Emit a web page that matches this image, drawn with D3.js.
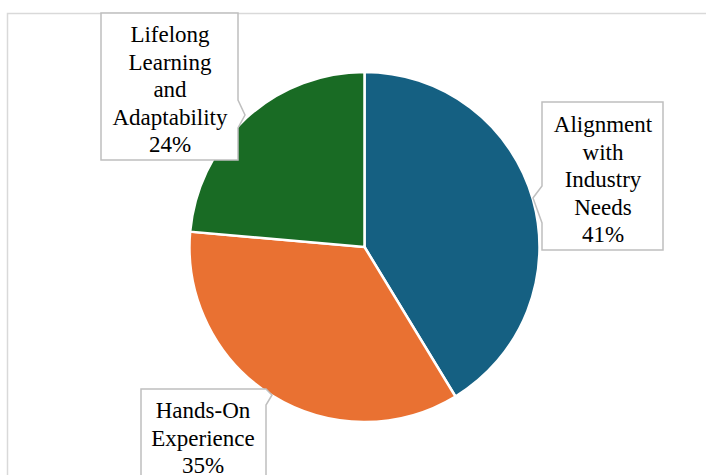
<!DOCTYPE html>
<html>
<head>
<meta charset="utf-8">
<script src="https://cdn.jsdelivr.net/npm/d3@7"></script>
<style>
  html, body { margin: 0; padding: 0; background: #fff; }
  svg { display: block; }
</style>
</head>
<body>
<script>
// chart data
const categories = ["Alignment with Industry Needs", "Hands-On Experience", "Lifelong Learning and Adaptability"];
const values = [41.3, 35.1, 23.6];
const colors = ["#156082", "#E97132", "#196B24"];
// label lines as shown in the callouts
const labelLines = [
  ["Alignment", "with", "Industry", "Needs"],
  ["Hands-On", "Experience"],
  ["Lifelong", "Learning", "and", "Adaptability"]
];

const width = 706, height = 475;
const cx = 364.5, cy = 247, radius = 175;

const svg = d3.select("body").append("svg")
    .attr("width", width)
    .attr("height", height);

// chart area border
svg.append("rect")
    .attr("x", 7.5).attr("y", 13.5)
    .attr("width", 720).attr("height", 500)
    .attr("fill", "none")
    .attr("stroke", "#d9d9d9")
    .attr("stroke-width", 1.5);

const pie = d3.pie().sort(null).value(d => d);
const arc = d3.arc().innerRadius(0).outerRadius(radius);
const arcs = pie(values);
const total = d3.sum(values);

const g = svg.append("g").attr("transform", "translate(" + cx + "," + cy + ")");
g.selectAll("path.slice")
    .data(arcs)
    .enter().append("path")
    .attr("class", "slice")
    .attr("d", arc)
    .attr("fill", (d, i) => colors[i])
    .attr("stroke", "#fff")
    .attr("stroke-width", 2.5);

// callout layout (box, pointer side, pointer base, pointer tip)
const callouts = [
  { x: 542, y: 102, w: 121, h: 148, side: "left", base: [186, 223], tip: [533, 198], tx: 603, ty: 132 },
  { x: 141, y: 389, w: 125, h: 120, side: "right", base: [389, 405], tip: [272, 395], tx: 203, ty: 418 },
  { x: 101, y: 13, w: 137, h: 147, side: "right", base: [100, 128], tip: [245, 115], tx: 170, ty: 42 }
];

function calloutPath(c) {
  const x0 = c.x, y0 = c.y, x1 = c.x + c.w, y1 = c.y + c.h;
  const p = d3.path();
  p.moveTo(x0, y0);
  p.lineTo(x1, y0);
  if (c.side === "right") {
    p.lineTo(x1, c.base[0]);
    p.lineTo(c.tip[0], c.tip[1]);
    p.lineTo(x1, c.base[1]);
  }
  p.lineTo(x1, y1);
  p.lineTo(x0, y1);
  if (c.side === "left") {
    p.lineTo(x0, c.base[1]);
    p.lineTo(c.tip[0], c.tip[1]);
    p.lineTo(x0, c.base[0]);
  }
  p.closePath();
  return p.toString();
}

const lineH = 27.5;
const labels = svg.selectAll("g.label")
    .data(arcs)
    .enter().append("g")
    .attr("class", "label");

labels.append("path")
    .attr("d", (d, i) => calloutPath(callouts[i]))
    .attr("fill", "#fff")
    .attr("stroke", "#bfbfbf")
    .attr("stroke-width", 1.5);

labels.append("text")
    .attr("text-anchor", "middle")
    .attr("font-family", "'Liberation Serif', 'Times New Roman', serif")
    .attr("font-size", 23)
    .attr("fill", "#000")
    .each(function (d, i) {
      const c = callouts[i];
      const lines = labelLines[i].concat([Math.round(values[i] / total * 100) + "%"]);
      d3.select(this).selectAll("tspan")
        .data(lines)
        .enter().append("tspan")
        .attr("x", c.tx)
        .attr("y", (t, j) => c.ty + j * lineH)
        .text(t => t);
    });
</script>
</body>
</html>
